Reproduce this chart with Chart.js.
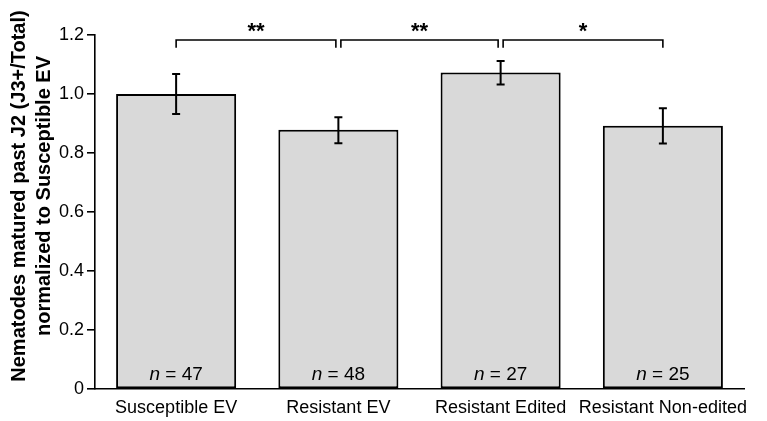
<!DOCTYPE html>
<html>
<head>
<meta charset="utf-8">
<script src="https://cdn.jsdelivr.net/npm/chart.js@4"></script>
<style>
    html, body { margin: 0; padding: 0; background: #fff; }
    #wrap { width: 767px; height: 421px; position: relative; }
</style>
</head>
<body>
<div id="wrap"><canvas id="chart"></canvas></div>
<script>
// Data
const categories = ['Susceptible EV', 'Resistant EV', 'Resistant Edited', 'Resistant Non-edited'];
const means = [1.0, 0.879, 1.073, 0.892];
const errLow = [0.932, 0.833, 1.032, 0.832];
const errHigh = [1.068, 0.921, 1.112, 0.952];
const sampleSizes = [47, 48, 27, 25];
const yTicks = [0, 0.2, 0.4, 0.6, 0.8, 1.0, 1.2];

// Significance brackets (category indexes)
const bracketFrom = [0, 1, 2];
const bracketTo = [1, 2, 3];
const bracketStars = ['**', '**', '*'];
const bracketLevel = 1.183;
const bracketDrop = 0.026;

const FONT = '"Liberation Sans", Arial, Helvetica, sans-serif';

// Error bars, n labels, brackets and the axis title
const annotations = {
    id: 'annotations',
    afterDatasetsDraw: (chart) => {
        const ctx = chart.ctx;
        const x = chart.scales.x;
        const y = chart.scales.y;
        ctx.save();
        ctx.strokeStyle = '#000';
        ctx.fillStyle = '#000';

        // error bars
        ctx.lineWidth = 2;
        means.forEach((m, i) => {
            const cx = x.getPixelForValue(i);
            const top = y.getPixelForValue(errHigh[i]);
            const bot = y.getPixelForValue(errLow[i]);
            ctx.beginPath();
            ctx.moveTo(cx, top); ctx.lineTo(cx, bot);
            ctx.moveTo(cx - 4, top); ctx.lineTo(cx + 4, top);
            ctx.moveTo(cx - 4, bot); ctx.lineTo(cx + 4, bot);
            ctx.stroke();
        });

        // n = labels inside bars
        ctx.textBaseline = 'middle';
        ctx.textAlign = 'left';
        sampleSizes.forEach((n, i) => {
            const cx = x.getPixelForValue(i);
            const rest = ' = ' + n;
            ctx.font = 'italic 19px ' + FONT;
            const wN = ctx.measureText('n').width;
            ctx.font = '19px ' + FONT;
            const wR = ctx.measureText(rest).width;
            const start = cx - (wN + wR) / 2;
            const ty = y.bottom - 14;
            ctx.font = 'italic 19px ' + FONT;
            ctx.fillText('n', start, ty);
            ctx.font = '19px ' + FONT;
            ctx.fillText(rest, start + wN, ty);
        });

        // brackets
        ctx.lineWidth = 1.6;
        const by = y.getPixelForValue(bracketLevel);
        const bd = y.getPixelForValue(bracketLevel - bracketDrop);
        bracketFrom.forEach((f, i) => {
            const t = bracketTo[i];
            const x1 = x.getPixelForValue(f) + (bracketTo.includes(f) ? 2.5 : 0);
            const x2 = x.getPixelForValue(t) - (bracketFrom.includes(t) ? 2.5 : 0);
            ctx.beginPath();
            ctx.moveTo(x1, bd); ctx.lineTo(x1, by);
            ctx.lineTo(x2, by); ctx.lineTo(x2, bd);
            ctx.stroke();
            ctx.font = 'bold 22px ' + FONT;
            ctx.textAlign = 'center';
            ctx.textBaseline = 'middle';
            ctx.fillText(bracketStars[i], (x1 + x2) / 2, by - 8);
        });

        // y axis title (two lines, bold)
        ctx.font = 'bold 20px ' + FONT;
        ctx.textAlign = 'center';
        ctx.textBaseline = 'middle';
        ctx.translate(0, 196);
        ctx.rotate(-Math.PI / 2);
        ctx.fillText('Nematodes matured past J2 (J3+/Total)', 0, 19);
        ctx.fillText('normalized to Susceptible EV', 0, 44);
        ctx.restore();
    }
};

new Chart(document.getElementById('chart'), {
    type: 'bar',
    data: {
        labels: categories,
        datasets: [{
            data: means,
            backgroundColor: '#d9d9d9',
            borderColor: '#000',
            borderWidth: 2,
            borderSkipped: false,
            barPercentage: 0.74,
            categoryPercentage: 1
        }]
    },
    options: {
        responsive: true,
        maintainAspectRatio: false,
        animation: false,
        layout: { padding: { top: 35, right: 23, left: 0, bottom: 0 } },
        plugins: {
            legend: { display: false },
            tooltip: { enabled: false }
        },
        scales: {
            x: {
                grid: { display: true, drawOnChartArea: false, drawTicks: false },
                border: { display: true, color: '#000', width: 1.6 },
                ticks: {
                    color: '#000',
                    padding: 8,
                    maxRotation: 0,
                    minRotation: 0,
                    autoSkip: false,
                    font: { family: FONT, size: 18 }
                },
                afterFit: (s) => { s.height = 32; }
            },
            y: {
                min: 0,
                max: 1.2,
                afterBuildTicks: (s) => { s.ticks = yTicks.map(v => ({ value: v })); },
                grid: { display: true, drawOnChartArea: false, drawTicks: true, tickLength: 8, color: '#000', lineWidth: 1.6 },
                border: { display: true, color: '#000', width: 1.6 },
                ticks: {
                    color: '#000',
                    padding: 3,
                    font: { family: FONT, size: 18 },
                    callback: (v) => v === 0 ? '0' : v.toFixed(1)
                },
                afterFit: (s) => { s.width = 95; }
            }
        }
    },
    plugins: [annotations]
});
</script>
</body>
</html>
